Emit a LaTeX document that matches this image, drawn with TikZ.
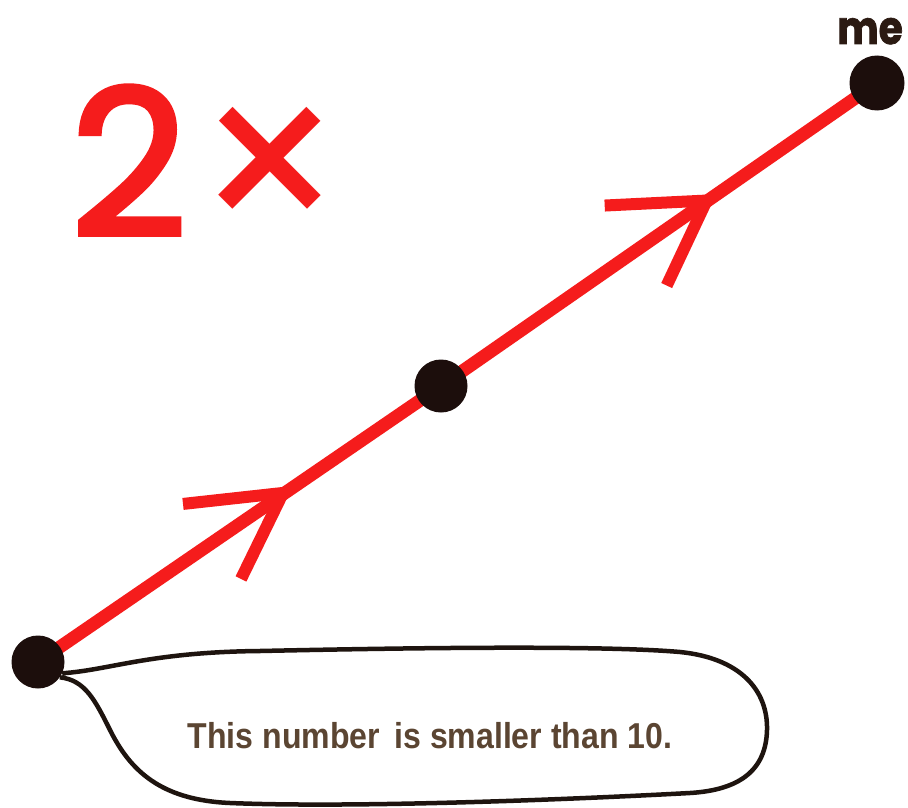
\documentclass[tikz,border=0pt]{standalone}
\usepackage{fontspec}
\setmainfont{Liberation Sans}
\newfontfamily\popfont{Poppins}
\newfontfamily\twofont{Poppins}[FakeBold=2.5]
\newfontfamily\mefont{Poppins}[FakeStretch=0.85,FakeBold=1.5]
\newfontfamily\capfont{Liberation Sans}[FakeStretch=0.89]
\usetikzlibrary{backgrounds}
\definecolor{myred}{RGB}{245,28,28}
\definecolor{dotcol}{RGB}{28,14,12}
\definecolor{bubcol}{RGB}{30,20,15}
\definecolor{txtcol}{RGB}{91,69,50}
\definecolor{mecol}{RGB}{43,26,18}
\begin{document}
\begin{tikzpicture}[x=1pt,y=-1pt,
  redline/.style={draw=myred, line width=13pt},
  arrowarm/.style={draw=myred, line width=12pt, line join=miter},
  dotnode/.style={circle, fill=dotcol, minimum size=53pt, inner sep=0pt},
  bubble/.style={draw=bubcol, line width=4.5pt, line join=round}]
\useasboundingbox (0,0) rectangle (908,808);

\node[dotnode] (A) at (38,662) {};
\node[dotnode] (B) at (441,386) {};
\node[dotnode, minimum size=55pt] (C) at (877,83) {};

\begin{scope}[on background layer]
\fill[white] (0,0) rectangle (908,808);
\draw[redline] (A.center) -- (B.center) -- (C.center);
\path (A.center) -- (C.center) coordinate[pos=0.292] (t1) coordinate[pos=0.797] (t2);
\draw[arrowarm] ([shift={(-100,11)}]t1) -- (t1) -- ++(-42,86);
\draw[arrowarm] ([shift={(-102,5)}]t2) -- (t2) -- ++(-40,85);
\end{scope}

\node[anchor=base east, text=mecol, inner sep=0pt,
  font=\mefont\bfseries\fontsize{46}{46}\selectfont] (me) at (903,44) {me};

\node[anchor=base west, text=myred, inner sep=0pt] (twox) at (70,236)
  {{\twofont\fontsize{204}{204}\selectfont 2}\hspace{7pt}\raisebox{-8pt}{\popfont\fontsize{235}{235}\selectfont ×}};

\draw[bubble] (A.-25) .. controls (110,670) and (150,652) .. (260,651)
  .. controls (400,648) and (600,645) .. (680,652)
  .. controls (740,658) and (768,690) .. (767,730)
  .. controls (766,770) and (740,790) .. (690,793)
  .. controls (560,800) and (350,808) .. (230,803)
  .. controls (160,800) and (130,770) .. (110,730)
  .. controls (95,700) and (85,680) .. (A.-35);

\node[anchor=base, text=txtcol, inner sep=0pt,
  font=\capfont\bfseries\fontsize{36}{36}\selectfont] (cap) at (430,748)
  {This number\hspace{0.4em}is smaller than 10.};
\end{tikzpicture}
\end{document}
